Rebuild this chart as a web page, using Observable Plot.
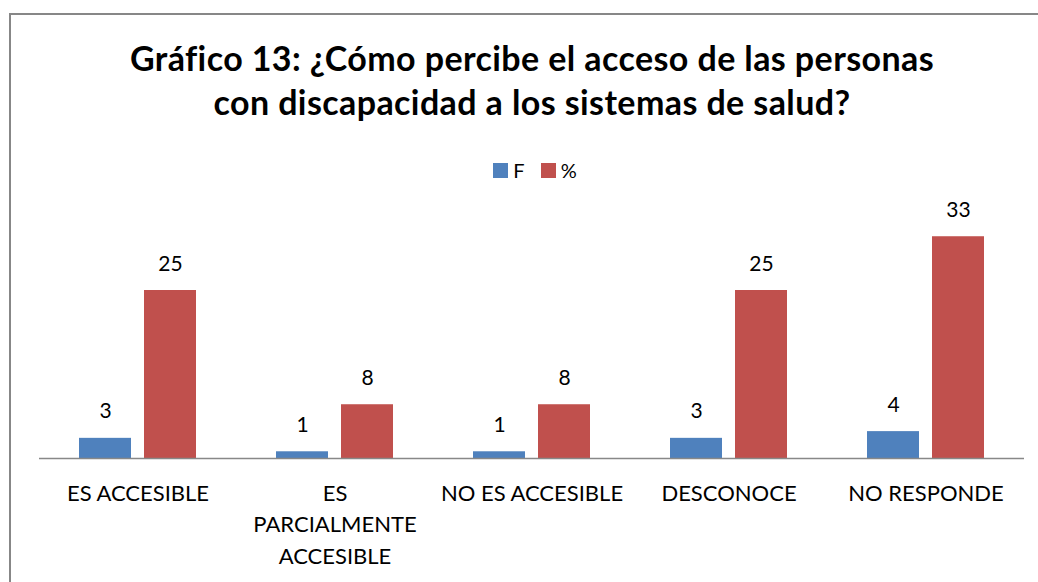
<!DOCTYPE html>
<html>
<head>
<meta charset="utf-8">
<script src="https://cdn.jsdelivr.net/npm/d3@7"></script>
<script src="https://cdn.jsdelivr.net/npm/@observablehq/plot@0.6"></script>
<style>
  html, body { margin: 0; padding: 0; background: #fff; }
  #wrap { position: relative; width: 1038px; height: 582px; overflow: hidden; font-family: Lato, "Open Sans", sans-serif; }
  #frame { position: absolute; left: 9px; top: 13px; width: 1100px; height: 700px; border-left: 2px solid #878787; border-top: 2px solid #878787; }
  #title { position: absolute; left: 0; width: 1064px; top: 36px; text-align: center; font-weight: bold; font-size: 34px; letter-spacing: 0.4px; line-height: 44px; color: #000; }
  #legend { position: absolute; top: 158px; left: 0; width: 1070px; display: flex; justify-content: center; align-items: center; font-size: 20px; color: #000; }
  #legend .sw { display: inline-block; width: 15px; height: 15px; margin-right: 5px; }
  #legend .item { display: flex; align-items: center; margin: 0 8px; }
  #chart { position: absolute; left: 0; top: 0; }
</style>
</head>
<body>
<div id="wrap">
  <div id="frame"></div>
  <div id="chart"></div>
  <div id="title">Gráfico 13: ¿Cómo percibe el acceso de las personas<br>con discapacidad a los sistemas de salud?</div>
  <div id="legend"></div>
</div>
<script>
const categories = ["ES ACCESIBLE", "ES PARCIALMENTE ACCESIBLE", "NO ES ACCESIBLE", "DESCONOCE", "NO RESPONDE"];
const categoryLabels = ["ES ACCESIBLE", "ES\nPARCIALMENTE\nACCESIBLE", "NO ES ACCESIBLE", "DESCONOCE", "NO RESPONDE"];
const seriesNames = ["F", "%"];
const seriesColors = ["#4F81BD", "#C0504D"];
const valuesF = [3, 1, 1, 3, 4];
const valuesPct = [25, 8, 8, 25, 33];

const data = categories.flatMap((c, i) => [
  {category: c, label: categoryLabels[i], series: "F", value: valuesF[i]},
  {category: c, label: categoryLabels[i], series: "%", value: valuesPct[i]}
]);

const legend = document.getElementById("legend");
seriesNames.forEach((s, i) => {
  const item = document.createElement("span");
  item.className = "item";
  const sw = document.createElement("span");
  sw.className = "sw";
  sw.style.background = seriesColors[i];
  item.appendChild(sw);
  item.appendChild(document.createTextNode(s));
  legend.appendChild(item);
});

const chart = Plot.plot({
  width: 1038,
  height: 582,
  marginLeft: 38,
  marginRight: 14,
  marginTop: 222.8,
  marginBottom: 124,
  style: {fontFamily: "Lato, 'Open Sans', sans-serif", background: "transparent", overflow: "visible"},
  facet: {data: data, x: "category"},
  fx: {domain: categories, padding: 0, axis: null},
  x: {domain: seriesNames, paddingInner: 0.197, paddingOuter: 0.5925, axis: null},
  y: {domain: [0, 35], axis: null},
  color: {domain: seriesNames, range: seriesColors},
  marks: [
    Plot.barY(data, {x: "series", y: "value", fill: "series"}),
    Plot.ruleY([0], {stroke: "#888", strokeWidth: 1.3}),
    Plot.text(data, {x: "series", y: "value", text: d => String(d.value), lineAnchor: "bottom", dy: -20, fontSize: 21, fill: "#000"}),
    Plot.text(data, {filter: d => d.series === "F", text: "label", frameAnchor: "bottom", lineAnchor: "top", dy: 20, fontSize: 22, lineHeight: 1.43, fill: "#000"})
  ]
});
document.getElementById("chart").appendChild(chart);
</script>
</body>
</html>
